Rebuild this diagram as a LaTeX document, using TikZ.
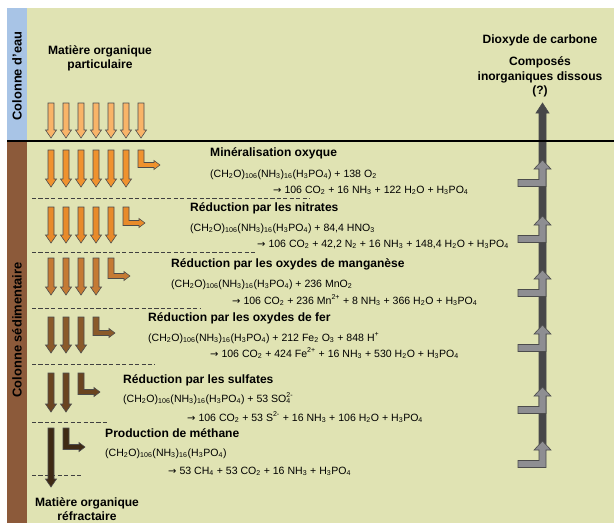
\documentclass[tikz,border=0pt]{standalone}
\usepackage{fontspec}
\setmainfont{Liberation Sans}
\newfontfamily\symb{DejaVu Sans}
\usetikzlibrary{shapes}

\definecolor{fond}{HTML}{E0E3B3}
\definecolor{eau}{HTML}{A8C4E6}
\definecolor{sediment}{HTML}{8C5A3A}
\definecolor{ox0}{HTML}{F9B468}
\definecolor{ox1}{HTML}{F0922E}
\definecolor{ox2}{HTML}{E88A2A}
\definecolor{ox3}{HTML}{C57A34}
\definecolor{ox4}{HTML}{8A5A2A}
\definecolor{ox5}{HTML}{6A4420}
\definecolor{ox6}{HTML}{3F2A14}
\definecolor{gris}{HTML}{8E8E92}
\definecolor{grisfonce}{HTML}{474749}

\newcommand{\chsub}[1]{\textsubscript{#1}}
\newcommand{\chsup}[1]{\textsuperscript{#1}}
\newcommand{\donne}{{\symb\fontsize{8.5}{10}\selectfont →}}
\newcommand{\matorg}{(CH\chsub{2}O)\chsub{106}(NH\chsub{3})\chsub{16}(H\chsub{3}PO\chsub{4})}

% fleche vers le bas : couleur, x, haut, bas
\newcommand{\fleche}[4]{%
  \filldraw[grosse, fill=#1] (#2-3,#3) -- (#2+3,#3) -- (#2+3,#4-8) -- (#2+5.5,#4-8)
    -- (#2,#4) -- (#2-5.5,#4-8) -- (#2-3,#4-8) -- cycle;}
% fleche coudee : couleur, x, haut, coude, fin
\newcommand{\flecheL}[5]{%
  \filldraw[grosse, fill=#1] (#2-3,#3) -- (#2+3,#3) -- (#2+3,#4-2.5) -- (#5-6,#4-2.5)
    -- (#5-6,#4-4.5) -- (#5,#4) -- (#5-6,#4+4.5) -- (#5-6,#4+2.5) -- (#2-3,#4+2.5) -- cycle;}
% fleche grise vers le haut : y du coude
\newcommand{\flecheCO}[1]{%
  \filldraw[grosse, fill=gris] (518,#1-3.5) -- (539,#1-3.5) -- (539,#1-14) -- (534,#1-14)
    -- (542.5,#1-23) -- (551,#1-14) -- (546,#1-14) -- (546,#1+3.5) -- (518,#1+3.5) -- cycle;}

\begin{document}
\begin{tikzpicture}[x=0.03cm,y=-0.03cm,
  titre/.style={font=\fontsize{10.3}{12.2}\selectfont\bfseries, inner sep=0pt, align=center},
  colonne/.style={font=\fontsize{11}{13}\selectfont\bfseries, inner sep=0pt, rotate=90},
  processus/.style={font=\fontsize{10.3}{12.2}\selectfont\bfseries, inner sep=0pt, anchor=base west},
  reaction/.style={font=\fontsize{9}{11}\selectfont, inner sep=0pt, anchor=base west},
  limite/.style={black!75, line width=0.6pt, dash pattern=on 3.5pt off 2pt},
  grosse/.style={draw=black!70, line width=0.5pt}]
\useasboundingbox (0,0) rectangle (614,523);

% fond et colonnes
\fill[fond] (7,8) rectangle (614,523);
\fill[eau] (7,8) rectangle (27,141);
\fill[sediment] (7,141) rectangle (27,523);

% CO2 et composes dissous
\filldraw[grosse, fill=grisfonce] (539,447) -- (546,447) -- (546,113) -- (549,113)
  -- (542.5,103) -- (536,113) -- (539,113) -- cycle;
\foreach \y in {183,239,293,348,410,464}
  \flecheCO{\y};

\draw[line width=1.7pt] (7,141) -- (614,141);

% limites des zones
\draw[limite] (32,198) -- (310,198);
\draw[limite] (32,252) -- (255,252);
\draw[limite] (32,308) -- (200,308);
\draw[limite] (32,364) -- (155,364);
\draw[limite] (32,422) -- (108,422);
\draw[limite] (32,475) -- (82,475);

% matiere organique
\foreach \x in {51,66,81,96,111,126,141}
  \fleche{ox0}{\x}{103}{138};
\foreach \x in {51,66,81,96,111,126}
  \fleche{ox1}{\x}{150}{187};
\flecheL{ox1}{141}{150}{165}{160}
\foreach \x in {51,66,81,96,111}
  \fleche{ox2}{\x}{207}{243};
\flecheL{ox2}{126}{207}{223}{145}
\foreach \x in {51,66,81,96}
  \fleche{ox3}{\x}{258}{295};
\flecheL{ox3}{111}{258}{276}{130}
\foreach \x in {51,66,81}
  \fleche{ox4}{\x}{317}{353};
\flecheL{ox4}{96}{317}{333}{115}
\foreach \x in {51,66}
  \fleche{ox5}{\x}{373}{412};
\flecheL{ox5}{81}{373}{392}{100}
\fleche{ox6}{51}{428}{487}
\flecheL{ox6}{66}{428}{447}{85}

\path (17,76) node[colonne](eau) {Colonne d{\char"27}eau}
(17,330) node[colonne](sed) {Colonne sédimentaire}
(100,58) node[titre](mop) {Matière organique\\particulaire}
(87,509) node[titre](mor) {Matière organique\\réfractaire}
(540,40) node[titre](co2) {Dioxyde de carbone}
(540,77) node[titre](cid) {Composés\\inorganiques dissous\\(?)}
;

% reactions
\path (210,156) node[processus](oxyque) {Minéralisation oxyque}
(210,177) node[reaction](r1a) {\matorg{} + 138 O\chsub{2}}
(273,193) node[reaction](r1b) {\donne{} 106 CO\chsub{2} + 16 NH\chsub{3} + 122 H\chsub{2}O + H\chsub{3}PO\chsub{4}}
(190,211) node[processus](nitrates) {Réduction par les nitrates}
(190,231) node[reaction](r2a) {\matorg{} + 84,4 HNO\chsub{3}}
(257,247) node[reaction](r2b) {\donne{} 106 CO\chsub{2} + 42,2 N\chsub{2} + 16 NH\chsub{3} + 148,4 H\chsub{2}O + H\chsub{3}PO\chsub{4}}
(171,267) node[processus](manganese) {Réduction par les oxydes de manganèse}
(171,287) node[reaction](r3a) {\matorg{} + 236 MnO\chsub{2}}
(232,304) node[reaction](r3b) {\donne{} 106 CO\chsub{2} + 236 Mn\chsup{2+} + 8 NH\chsub{3} + 366 H\chsub{2}O + H\chsub{3}PO\chsub{4}}
(148,321) node[processus](fer) {Réduction par les oxydes de fer}
(148,341) node[reaction](r4a) {\matorg{} + 212 Fe\chsub{2} O\chsub{3} + 848 H\chsup{+}}
(210,357) node[reaction](r4b) {\donne{} 106 CO\chsub{2} + 424 Fe\chsup{2+} + 16 NH\chsub{3} + 530 H\chsub{2}O + H\chsub{3}PO\chsub{4}}
(123,383) node[processus](sulfates) {Réduction par les sulfates}
(123,402) node[reaction](r5a) {\matorg{} + 53 SO\rlap{\chsub{4}}\chsup{2-}}
(187,421) node[reaction](r5b) {\donne{} 106 CO\chsub{2} + 53 S\chsup{2-} + 16 NH\chsub{3} + 106 H\chsub{2}O + H\chsub{3}PO\chsub{4}}
(105,437) node[processus](methane) {Production de méthane}
(105,456) node[reaction](r6a) {\matorg}
(168,474) node[reaction](r6b) {\donne{} 53 CH\chsub{4} + 53 CO\chsub{2} + 16 NH\chsub{3} + H\chsub{3}PO\chsub{4}}
;
\end{tikzpicture}
\end{document}
